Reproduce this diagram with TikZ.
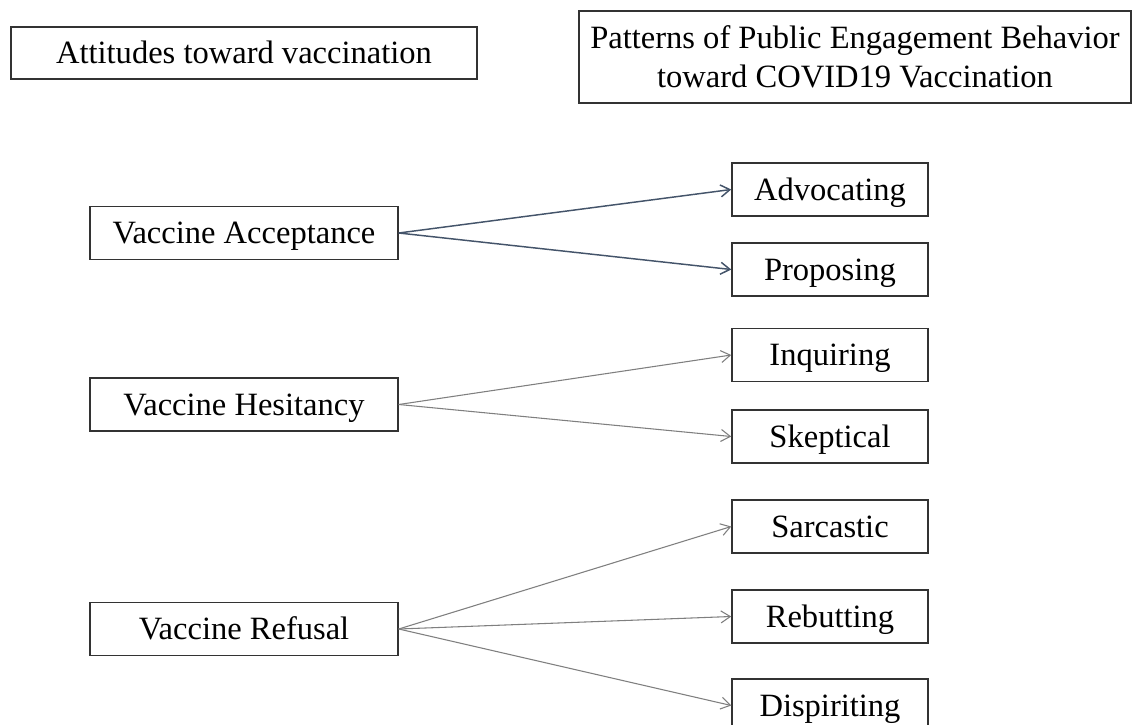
\documentclass[tikz,border=0pt]{standalone}
\usepackage{fontspec}
\setmainfont{Liberation Serif}
\usetikzlibrary{arrows.meta}
\definecolor{slate}{HTML}{44546A}
\definecolor{linegray}{HTML}{7F7F7F}
\definecolor{boxline}{HTML}{333333}
\begin{document}
\begin{tikzpicture}[x=0.75pt,y=-0.75pt,
  box/.style={draw=boxline, line width=1.1pt, inner sep=0pt, align=center,
    font=\fontsize{24.4}{27}\selectfont, text height=16.1pt, text depth=0pt},
  leftbox/.style={box, minimum width=231pt, minimum height=39.75pt},
  rightbox/.style={box, minimum width=147pt, minimum height=39.75pt},
  accarrow/.style={draw=slate, line width=1.1pt, -{Straight Barb[length=7pt,width=9pt]}},
  grayarrow/.style={draw=linegray, line width=0.8pt, -{Straight Barb[length=7pt,width=9pt]}}
]
\useasboundingbox (0,0) rectangle (1133,725);

% headers
\node[box, minimum width=349.5pt, minimum height=39pt] (att) at (244,53) {Attitudes toward vaccination};
\node[box, minimum width=414pt, minimum height=69pt, font=\fontsize{24.4}{29.25}\selectfont, text height=45.35pt] (pat) at (855,57) {Patterns of Public Engagement Behavior\\toward COVID19 Vaccination};

% left column
\node[leftbox] (acc) at (244,233) {Vaccine Acceptance};
\node[leftbox] (hes) at (244,404.5) {Vaccine Hesitancy};
\node[leftbox] (ref) at (244,629) {Vaccine Refusal};

% right column
\node[rightbox] (adv) at (830,189.5) {Advocating};
\node[rightbox] (pro) at (830,269.5) {Proposing};
\node[rightbox] (inq) at (830,355) {Inquiring};
\node[rightbox] (ske) at (830,436.5) {Skeptical};
\node[rightbox] (sar) at (830,526.5) {Sarcastic};
\node[rightbox] (reb) at (830,616.5) {Rebutting};
\node[rightbox] (dis) at (830,705.5) {Dispiriting};

% connectors
\draw[accarrow] (acc.east) -- (adv.west);
\draw[accarrow] (acc.east) -- (pro.west);
\draw[grayarrow] (hes.east) -- (inq.west);
\draw[grayarrow] (hes.east) -- (ske.west);
\draw[grayarrow] (ref.east) -- (sar.west);
\draw[grayarrow] (ref.east) -- (reb.west);
\draw[grayarrow] (ref.east) -- (dis.west);
\end{tikzpicture}
\end{document}
